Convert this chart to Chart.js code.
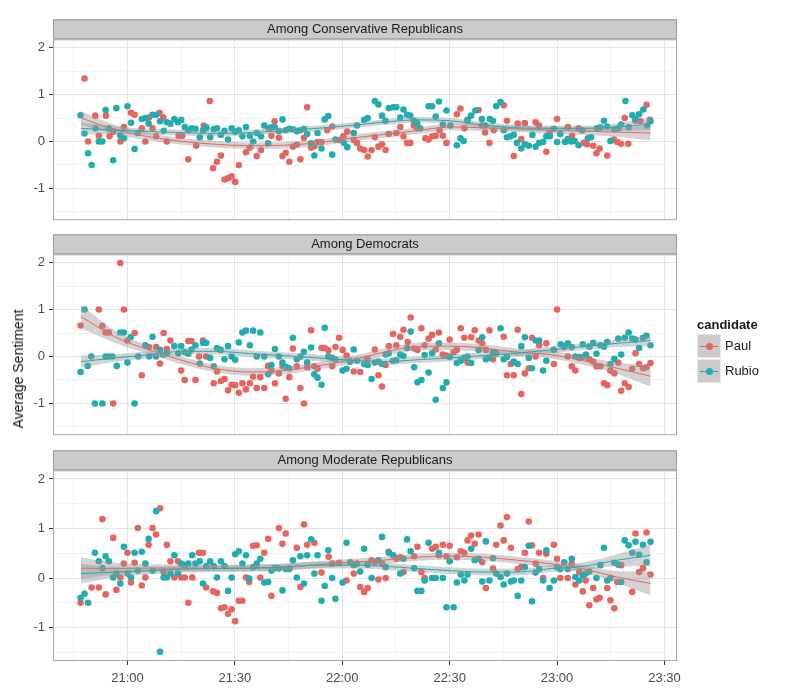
<!DOCTYPE html>
<html>
<head>
<meta charset="utf-8">
<script src="https://cdn.jsdelivr.net/npm/chart.js@4.4.1/dist/chart.umd.min.js"></script>
<style>
  body { margin: 0; background: #fff; font-family: "Liberation Sans", Arial, sans-serif; }
  #wrap { position: relative; width: 800px; height: 700px; overflow: hidden; }
  #wrap canvas { position: absolute; left: 0; }
  #ytitle { position: absolute; left: 18px; top: 369px; transform: translate(-50%, -50%) rotate(-90deg);
            font-size: 14px; font-weight: normal; color: #111; white-space: nowrap; }
  #legend { position: absolute; left: 697px; top: 316px; font-size: 13px; color: #1a1a1a; }
  #legend .ttl { font-weight: bold; height: 17px; line-height: 17px; }
  #legend .row { height: 25px; display: flex; align-items: center; }
  #legend .key { position: relative; width: 24px; height: 24px; background: #cbcbcb; border: 0.5px solid #e6e6e6; margin-right: 4px; box-sizing: border-box; }
  #legend .key i { position: absolute; left: 2px; right: 2px; top: 11px; height: 1px; }
  #legend .key b { position: absolute; left: 8px; top: 8px; width: 7px; height: 7px; border-radius: 50%; }
</style>
</head>
<body>
<div id="wrap">
  <canvas id="p1" width="800" height="232" style="top:0"></canvas>
  <canvas id="p2" width="800" height="215" style="top:232px"></canvas>
  <canvas id="p3" width="800" height="253" style="top:447px"></canvas>
  <div id="ytitle">Average Sentiment</div>
  <div id="legend">
    <div class="ttl">candidate</div>
    <div class="row"><span class="key"><i id="lk1"></i><b id="ld1"></b></span>Paul</div>
    <div class="row"><span class="key"><i id="lk2"></i><b id="ld2"></b></span>Rubio</div>
  </div>
</div>
<script>
// time is minutes after midnight (1260 = 21:00)
const panelTitles = ['Among Conservative Republicans', 'Among Democrats', 'Among Moderate Republicans'];
const candidates = ['Paul', 'Rubio'];
const xTicks = [1245, 1260, 1275, 1290, 1305, 1320, 1335, 1350, 1365, 1380, 1395, 1410];
const yTicks = [-1.5, -1, -0.5, 0, 0.5, 1, 1.5, 2];

const consPaul = [[1248,1.34],[1249,0],[1251,0.55],[1252,0.12],[1254,0.55],[1255,0.11],[1256,0.21],[1258,0],[1259,0.31],[1261,0.61],[1262,0.57],[1264,0.28],[1265,0],[1266,0.51],[1267,0.28],[1268,0.11],[1269,0.61],[1270,0.51],[1271,0],[1274.3,0.12],[1275.3,0.12],[1277,-0.38],[1279.2,-0.09],[1281.3,0.34],[1282,0.28],[1283,0.86],[1283.9,-0.57],[1285,-0.43],[1286.1,-0.3],[1287.1,-0.81],[1288.1,-0.78],[1289.1,-0.74],[1290.1,-0.86],[1291.1,-0.5],[1293.1,-0.23],[1294.2,-0.13],[1296.1,-0.31],[1297.3,-0.18],[1299.4,0.28],[1300.2,0.12],[1301.1,0.43],[1302.3,0.08],[1303.3,-0.31],[1304.2,-0.24],[1305.2,-0.43],[1306.2,-0.11],[1307.3,-0.07],[1308.3,-0.38],[1309.3,0.08],[1310.2,0.73],[1311.3,-0.13],[1312.2,-0.1],[1313.1,-0.01],[1314.2,-0.01],[1315.8,0.24],[1317.2,0.32],[1319.3,0.03],[1320.3,0.11],[1321.4,0.21],[1323.2,0.03],[1324.1,-0.03],[1325,-0.15],[1326.1,-0.18],[1327.1,-0.32],[1328.2,-0.18],[1329.1,0.09],[1330.1,-0.11],[1331.1,-0.06],[1332.1,-0.18],[1333,0.16],[1335.1,0.18],[1336.2,0.31],[1337.1,0.11],[1338.1,-0.03],[1339,-0.03],[1340,0.34],[1340.9,0.28],[1343.2,0.07],[1344.1,0.04],[1345.1,0.11],[1346.1,0.12],[1347.2,0.24],[1348.1,0.12],[1349.1,-0.03],[1352,0.58],[1353,0.7],[1354.1,0.28],[1355,0.44],[1358.1,0.67],[1359,0.34],[1359.9,0.19],[1361.1,-0.03],[1362.3,0.24],[1365.1,0.77],[1366,0.44],[1367.9,-0.31],[1369,0.38],[1370,0.05],[1371,0.39],[1374,0.41],[1375,0.34],[1377,-0.22],[1377.9,0.18],[1380,0.48],[1383,0.31],[1384.2,0.12],[1386,0.28],[1387.5,-0.03],[1388.4,-0.06],[1390.1,-0.09],[1391,-0.25],[1391.9,-0.15],[1394,-0.3],[1395.9,0.04],[1396.8,-0.01],[1397.9,-0.05],[1398.9,0.5],[1399.9,-0.05],[1401.9,0.44],[1403.3,0.43],[1405,0.78],[1405.9,0.46]];
const consRubio = [[1246.9,0.56],[1248,0.17],[1249,-0.25],[1250,-0.5],[1251.1,0.28],[1252,0],[1253,0],[1253.9,0.67],[1254.8,0.28],[1256,-0.4],[1256.9,0.71],[1258,0.13],[1259,0.07],[1260,0.75],[1261,0.4],[1262,-0.16],[1262.9,0.18],[1264,0.48],[1265,0.5],[1265.9,0.38],[1267,0.57],[1268,0.57],[1269.1,0.43],[1270.1,0.23],[1271,0.41],[1272,0.38],[1273.1,0.48],[1274.1,0.41],[1275,0.46],[1276,0.31],[1277,0.24],[1277.9,0.28],[1279,0.27],[1280.2,0.09],[1281.1,0.24],[1282,0.3],[1283.1,0.09],[1284.1,0.26],[1285,0.28],[1286.1,0.14],[1287.1,0.23],[1288.1,0.04],[1289.1,0.28],[1290.1,0.21],[1291.1,0.24],[1292.1,0.11],[1293.1,0.31],[1294.2,0.12],[1295.1,0],[1296.1,0.18],[1297.3,0.11],[1298.2,0.34],[1299.3,-0.04],[1300.2,0.3],[1301.1,0.31],[1302.3,0.22],[1303.3,0.47],[1304.2,0.24],[1305.2,0.27],[1306.2,0.26],[1307.3,0.22],[1308.3,0.24],[1309.3,0.27],[1310.2,0.16],[1311.3,-0.04],[1312.2,-0.3],[1313.1,0.18],[1314.2,-0.15],[1315.1,0.47],[1316.1,0.54],[1317.2,-0.28],[1318.1,0.04],[1320.5,-0.03],[1321.4,-0.12],[1323.2,0.18],[1324.1,0.34],[1326.1,0.46],[1327.1,0.5],[1329.1,0.86],[1330.1,0.79],[1331.1,0.55],[1332.1,0.44],[1333,0.71],[1334.2,0.73],[1335.1,0.73],[1336.2,0.51],[1337.1,0.68],[1338.1,0.57],[1339,0.55],[1340,0.44],[1340.9,0.39],[1341.8,0.28],[1344.1,0.75],[1345.1,0.75],[1346.1,0.53],[1347,0.85],[1348.1,0.36],[1349.1,0.66],[1350.2,0.34],[1352,-0.08],[1353,0.07],[1353.9,0.01],[1355,0.46],[1356,0.55],[1357.2,0.66],[1359,0.48],[1360,0.34],[1361.2,0.48],[1362.1,0.44],[1363,0.75],[1364.2,0.84],[1365.1,0.24],[1366,0.09],[1366.9,0.11],[1367.9,0.14],[1368.8,-0.03],[1370,-0.15],[1371,-0.06],[1372.1,-0.09],[1373.1,0.14],[1374,-0.11],[1375,-0.03],[1376.1,-0.01],[1377,0.11],[1378,0.11],[1379.1,0.27],[1380,-0.01],[1380.9,0.16],[1382.2,-0.01],[1383,0.05],[1383.9,0],[1384.9,0.01],[1386,-0.08],[1387,0.24],[1388.6,0.07],[1389.5,0.09],[1391.2,0.28],[1392.1,0.3],[1393.1,0.44],[1394,0.32],[1394.9,0.01],[1396,0.26],[1397.1,0.28],[1397.9,0.36],[1399.1,0.86],[1400,0.3],[1401,0.56],[1401.9,0.48],[1402.9,0.58],[1404.1,0.68],[1405.2,0.34],[1406.1,0.43]];

const demPaul = [[1246.9,0.66],[1252,1],[1253,0.65],[1253.9,0.51],[1254.8,0.51],[1256,-1],[1258,1.99],[1259,1],[1260,0.34],[1262,0.5],[1264,-0.4],[1266,0.2],[1268,0.2],[1269.1,-0.15],[1270.1,0.5],[1271,0.16],[1272,0.34],[1275,-0.3],[1276,-0.5],[1277,0.33],[1277.9,0.33],[1279,-0.5],[1280,0],[1281.1,0.34],[1282,0],[1284.1,-0.57],[1285,-0.32],[1286.1,-0.52],[1287.1,-0.48],[1288.1,-0.72],[1289.1,-0.6],[1290.1,-0.61],[1291.1,-0.77],[1292.1,-0.57],[1293.1,-0.7],[1294.2,-0.57],[1295.1,-0.43],[1296.1,-0.67],[1297.1,-0.44],[1298.2,-0.67],[1299.3,-0.2],[1300.2,-0.3],[1301.2,-0.57],[1302.3,-0.36],[1303.3,-0.2],[1304.2,-0.9],[1305.2,-0.44],[1306.2,0.17],[1307.3,-0.21],[1308.3,-0.67],[1309.3,-1],[1310.2,-0.23],[1311.3,0.56],[1312.2,-0.21],[1313.1,-0.26],[1314.2,0.18],[1315.1,0.18],[1316.1,0.13],[1317.2,-0.21],[1318.1,0.2],[1319.1,0.4],[1320.1,0.14],[1321.2,0.02],[1323.2,-0.32],[1325,-0.33],[1327,-0.05],[1329.1,0.15],[1330.1,-0.4],[1331.1,-0.64],[1332.1,-0.18],[1333,0.22],[1334.2,0.48],[1335.1,0.24],[1336.2,0.42],[1337.1,0.57],[1338.3,0.31],[1339.1,0.83],[1340.1,0.17],[1341,0.14],[1342.1,0.6],[1343,0.24],[1344.1,0.38],[1345.1,0.46],[1346.1,0.15],[1347,0.51],[1348.1,0.04],[1349.1,0.02],[1350,0.36],[1351.1,0.09],[1352,0.14],[1353.1,0.6],[1354.1,0.4],[1355,-0.13],[1356,0.41],[1357,0.56],[1358.1,0.34],[1359.1,0.28],[1360.1,0.14],[1361.1,0.56],[1362.1,-0.06],[1363,0.07],[1365.1,0.42],[1366,-0.4],[1367.1,-0.16],[1367.9,-0.4],[1369,0.57],[1370,-0.8],[1371,-0.36],[1372.1,-0.25],[1373,0.4],[1374,0],[1375,0.24],[1377,0.28],[1379.1,-0.16],[1380,1],[1382,0.2],[1383,0],[1384.1,-0.21],[1385.1,-0.3],[1386.2,-0.03],[1387.2,-0.01],[1389,-0.06],[1390.1,-0.11],[1391,-0.21],[1392.1,-0.21],[1393.1,-0.57],[1394,-0.61],[1394.9,-0.3],[1396,-0.36],[1397.1,-0.13],[1397.9,-0.73],[1398.9,-0.57],[1400,-0.65],[1401,-0.26],[1401.9,0.07],[1402.9,-0.16],[1404,-0.25],[1405,-0.23],[1406.1,-0.14]];
const demRubio = [[1246.9,-0.33],[1248,1],[1248.9,-0.2],[1249.9,0],[1250.9,-1],[1253,-1],[1253.9,0],[1254.8,0],[1255.8,0],[1257,-0.2],[1258,0.51],[1259,0.51],[1260,-0.13],[1260.9,0.41],[1262,-1],[1263,0],[1265,0.24],[1266.1,0],[1267,0.42],[1268,0],[1269.1,0.14],[1270,0.04],[1271,0.07],[1273.1,0.22],[1274.2,0.07],[1275,0.22],[1276,0.09],[1277,0.06],[1277.9,0.15],[1279,0.24],[1280.2,-0.15],[1281.1,0.29],[1282,0.29],[1283.1,-0.03],[1284.1,-0.21],[1285,0.18],[1286.1,0.14],[1287.1,-0.06],[1288.1,0.22],[1289.1,0],[1290.1,-0.07],[1291.1,0.3],[1292.1,0.51],[1293.1,0.55],[1294.2,0.24],[1295.1,0.55],[1296.1,0],[1297.1,0.51],[1298.2,0],[1299.3,-0.38],[1300.2,-0.18],[1301.2,0.16],[1302.3,0],[1303.3,-0.13],[1304.2,-0.22],[1305.2,-0.25],[1306.2,0.4],[1307.3,-0.06],[1308.3,0],[1309.3,0.1],[1310.2,-0.13],[1311.3,0.19],[1312.2,-0.38],[1313.1,-0.45],[1314.2,-0.6],[1315.1,0.61],[1316.1,0],[1317.2,-0.03],[1318.1,-0.07],[1320.1,-0.3],[1321.2,-0.26],[1322.2,-0.11],[1323.2,0.15],[1324.1,-0.09],[1326.1,-0.16],[1327.1,-0.18],[1328.2,-0.48],[1329.1,-0.13],[1330.1,-0.11],[1331.1,-0.16],[1332.1,0.04],[1333,0.07],[1334.2,-0.09],[1335.1,-0.08],[1336.2,0.04],[1337.1,0.01],[1338.1,0.18],[1339.1,0.53],[1340.1,-0.23],[1341,-0.55],[1342.1,-0.5],[1343,0.03],[1344.1,-0.34],[1345.1,0.07],[1346.1,-0.92],[1347,0.28],[1348.1,-0.67],[1349.1,-0.55],[1350,-0.01],[1352,-0.14],[1353.1,-0.09],[1354.1,-0.03],[1355,0],[1356,-0.14],[1358.1,0.14],[1359.1,0.41],[1360.1,-0.06],[1361.1,-0.03],[1362.1,0.09],[1363,0.07],[1364.2,0.6],[1365.1,-0.06],[1366,-0.01],[1367.9,-0.11],[1369,-0.16],[1370,0.22],[1371,0.41],[1372.1,-0.03],[1373,-0.25],[1374,0.34],[1375,0.34],[1376.1,-0.3],[1377,-0.09],[1379.1,0.14],[1381,0.26],[1382,0.22],[1383,0.28],[1384.1,0.2],[1385.1,0],[1386.2,-0.01],[1387.2,0.26],[1388.1,0.04],[1389,0.21],[1390.1,0.29],[1391,0.06],[1392.1,0.24],[1393.1,0.21],[1394,0.31],[1394.9,-0.16],[1396,-0.05],[1397.1,0.38],[1397.9,0.04],[1398.9,0.4],[1400,0.51],[1401,0.38],[1401.9,0.36],[1402.9,0.18],[1404,0.4],[1405,0.44],[1406.1,0.24]];

const modPaul = [[1246.9,-0.5],[1250,-0.19],[1252,-0.19],[1253,1.19],[1253.9,-0.33],[1256,0.81],[1256.9,-0.24],[1258,0.01],[1259,0.29],[1260,0.51],[1261,-0.09],[1262,0.31],[1262.9,1.01],[1264,-0.15],[1265,0.01],[1265.9,0.67],[1267,1.01],[1268,0.88],[1269.1,1.41],[1270.1,0.12],[1271,0.67],[1272,0.34],[1273.1,0.01],[1274.1,0.34],[1275,0.01],[1276,0.01],[1277,-0.5],[1278.1,0.01],[1280,0.51],[1281.1,0.51],[1282,-0.19],[1283.9,-0.27],[1285,-0.3],[1286.1,-0.61],[1287.1,-0.59],[1288.1,-0.72],[1289.1,-0.63],[1290.1,-0.87],[1291.1,-0.46],[1292.1,-0.46],[1293.1,0.01],[1294,-0.08],[1295.1,0.65],[1296.1,0.66],[1297.1,0.01],[1298.2,0.51],[1299.3,0.79],[1300.2,-0.36],[1302.3,1.01],[1303.3,0.69],[1304.2,0.9],[1305.2,0.18],[1307.3,0.61],[1308.3,-0.18],[1309.3,1.08],[1310.2,0.67],[1312.2,0.71],[1314.2,0.11],[1316.2,0.43],[1317.2,0.29],[1319.1,0.31],[1321.2,-0.05],[1323.2,0.09],[1325,-0.18],[1326.1,-0.28],[1327.1,-0.2],[1328.2,0.36],[1329.1,0.32],[1330.1,-0.03],[1331.1,0.29],[1332.1,0],[1333,0.53],[1334.2,0.46],[1335.1,0.39],[1336.2,0.42],[1337.1,0.12],[1340.1,0.44],[1341,0.63],[1342.1,0.12],[1343,0],[1345.1,0.59],[1346.1,0.63],[1347,0.46],[1348.1,0.67],[1349.1,0.44],[1350,0.65],[1352,0.42],[1353.1,0.54],[1354.1,0.51],[1355,0.76],[1356,0.86],[1357,0.69],[1358.1,0.88],[1359.1,0.32],[1360.1,-0.2],[1362.1,0.19],[1363,0.67],[1364.2,1.06],[1365.1,0.76],[1366,1.23],[1367.1,0.61],[1369,0.18],[1370,0.22],[1371,0.51],[1372.1,1.14],[1373,0.66],[1374,0.29],[1375,0.51],[1376.1,0],[1377,0.49],[1379.1,0.67],[1380,0.39],[1380.9,0],[1383,0],[1384.1,0.29],[1385.1,-0.13],[1386.2,0.12],[1387.2,-0.27],[1388,-0.05],[1389,-0.55],[1390.1,-0.2],[1391,-0.43],[1391.9,-0.4],[1394,-0.2],[1394.9,-0.45],[1396,-0.61],[1396.8,-0.08],[1397.9,0.26],[1401,-0.28],[1401.9,0.9],[1402.9,0.12],[1404,0.2],[1405,0.92],[1406.1,0.07]];
const modRubio = [[1246.9,-0.4],[1248,-0.32],[1249,-0.5],[1250.9,0.51],[1252,0.34],[1253,0.2],[1253.9,0.44],[1254.8,0.34],[1256,0.01],[1256.9,0.09],[1258,-0.11],[1259,0.63],[1260,0.09],[1261,0.01],[1262,0.51],[1262.9,0.15],[1264,0.53],[1265,0.29],[1265.9,0.79],[1267,0.15],[1268,1.35],[1269.1,-1.49],[1270.1,0.01],[1271,0.01],[1272,0.09],[1273.1,0.46],[1274.1,0.09],[1275,0.29],[1276,0.26],[1277,0.29],[1278.1,0.46],[1279,0.29],[1280.2,0.34],[1281.1,-0.11],[1282,0.24],[1283.1,0.34],[1284.1,0.24],[1285,0.01],[1286.1,0.34],[1287.1,0.24],[1288.1,-0.26],[1289.1,0.01],[1290.1,0.48],[1291.1,0.54],[1292.1,0.29],[1293.1,0.46],[1294,-0.01],[1295.1,0.22],[1296.1,0.29],[1297.1,0.39],[1298.2,-0.09],[1299.3,-0.08],[1300.2,0.15],[1301.2,0.2],[1302.3,0.19],[1303.3,-0.25],[1304.2,0.18],[1305.2,0.19],[1306.2,0.36],[1307.3,0.01],[1308.3,0.44],[1309.3,-0.11],[1310.2,0.46],[1311.3,0.78],[1312.2,0.09],[1313.1,0.46],[1314.2,-0.46],[1315.1,-0.16],[1316.1,0.56],[1317.2,0],[1318.1,-0.42],[1320.1,-0.09],[1321.2,0.71],[1322.2,0.32],[1323.2,0.26],[1324.1,0.29],[1325,0.13],[1326.1,0.59],[1327.1,0.27],[1328.2,0],[1330.1,0.36],[1331.1,0.83],[1332.1,0.22],[1333,0.51],[1334.2,0.46],[1336.2,0.09],[1337.1,0.39],[1338.1,0.78],[1339.1,0.54],[1340.1,0.2],[1341,-0.26],[1342.1,-0.26],[1343,-0.05],[1344.1,0.71],[1345.1,0],[1346.1,0],[1347,0.51],[1348.1,0],[1349.1,-0.59],[1350,0.34],[1351.1,-0.59],[1352,-0.09],[1353.1,0.07],[1354.1,-0.05],[1355,0.07],[1356,0.59],[1357,0.36],[1358.1,0.39],[1359.1,-0.07],[1360.1,0.74],[1361.1,-0.05],[1362.1,0.4],[1363,0.09],[1364.2,0.02],[1365.1,-0.13],[1366,0.09],[1367.1,-0.07],[1367.9,-0.05],[1369,-0.36],[1370,-0.05],[1371,0.22],[1372.1,0.65],[1373,-0.47],[1374,0.11],[1375,0.18],[1376.1,-0.05],[1377,0.56],[1377.9,-0.2],[1379.1,-0.05],[1380,0.22],[1380.9,0.18],[1382,0.32],[1383,0.18],[1384.1,0.39],[1385.1,0.02],[1386.2,-0.05],[1387.2,0.05],[1388,0.09],[1389,0.13],[1391,0],[1392.1,0.26],[1393.1,0.61],[1394,-0.05],[1394.9,0],[1396,0.31],[1397.1,0.27],[1397.9,-0.08],[1398.9,0.76],[1400,0.66],[1401,0.51],[1401.9,0.73],[1402.9,0.47],[1404,0.67],[1405,0.32],[1406.1,0.73]];

// loess fits and their standard-error half widths, read at these times
const fitTimes = [1247, 1256.7, 1266.1, 1275.5, 1284.8, 1294.2, 1303.6, 1313, 1322.3, 1331.5, 1340.9, 1350.2, 1359.5, 1368.8, 1378.1, 1387.5, 1396.8, 1406.1];
const consPaulFit  = [0.5, 0.25, 0.1, 0, -0.06, -0.09, -0.08, -0.03, 0.07, 0.15, 0.23, 0.31, 0.29, 0.27, 0.24, 0.22, 0.2, 0.18];
const consPaulSe   = [0.15, 0.1, 0.08, 0.07, 0.07, 0.07, 0.07, 0.07, 0.07, 0.07, 0.07, 0.07, 0.07, 0.07, 0.07, 0.08, 0.1, 0.16];
const consRubioFit = [0.28, 0.24, 0.21, 0.19, 0.17, 0.19, 0.23, 0.28, 0.34, 0.41, 0.46, 0.44, 0.35, 0.29, 0.28, 0.28, 0.31, 0.37];
const consRubioSe  = [0.13, 0.08, 0.06, 0.06, 0.06, 0.06, 0.06, 0.06, 0.06, 0.06, 0.06, 0.06, 0.06, 0.06, 0.06, 0.06, 0.08, 0.13];
const demPaulFit   = [0.85, 0.41, 0.14, -0.09, -0.26, -0.33, -0.3, -0.2, -0.08, 0.09, 0.21, 0.22, 0.18, 0.09, 0.04, -0.09, -0.25, -0.42];
const demPaulSe    = [0.25, 0.13, 0.09, 0.08, 0.08, 0.08, 0.08, 0.08, 0.08, 0.08, 0.08, 0.08, 0.08, 0.08, 0.08, 0.09, 0.12, 0.22];
const demRubioFit  = [-0.11, -0.03, 0.04, 0.11, 0.11, 0.06, 0.02, -0.03, -0.08, -0.11, -0.07, -0.03, 0.02, 0.07, 0.14, 0.21, 0.28, 0.34];
const demRubioSe   = [0.13, 0.08, 0.07, 0.07, 0.07, 0.07, 0.07, 0.07, 0.07, 0.07, 0.07, 0.07, 0.07, 0.07, 0.07, 0.07, 0.08, 0.12];
const modPaulFit   = [0.2, 0.19, 0.2, 0.2, 0.2, 0.2, 0.22, 0.27, 0.32, 0.36, 0.42, 0.44, 0.42, 0.36, 0.29, 0.18, 0.02, -0.11];
const modPaulSe    = [0.22, 0.12, 0.08, 0.07, 0.07, 0.07, 0.07, 0.07, 0.07, 0.07, 0.07, 0.07, 0.07, 0.07, 0.07, 0.08, 0.12, 0.24];
const modRubioFit  = [0.09, 0.12, 0.15, 0.18, 0.19, 0.2, 0.22, 0.26, 0.26, 0.24, 0.19, 0.15, 0.12, 0.12, 0.19, 0.24, 0.36, 0.46];
const modRubioSe   = [0.2, 0.11, 0.08, 0.07, 0.07, 0.07, 0.07, 0.07, 0.07, 0.07, 0.07, 0.07, 0.07, 0.07, 0.07, 0.08, 0.12, 0.22];

const paulColor = '#E8655F';
const rubioColor = '#1FADB0';
const bandColor = 'rgba(150,150,150,0.42)';

document.getElementById('lk1').style.background = paulColor;
document.getElementById('ld1').style.background = paulColor;
document.getElementById('lk2').style.background = rubioColor;
document.getElementById('ld2').style.background = rubioColor;

const fmtTime = v => Math.floor(v / 60) + ':' + String(v % 60).padStart(2, '0');

// grey strip above each panel plus the panel frame
const stripPlugin = {
  id: 'strip',
  afterDraw(chart, args, opts) {
    const { ctx, chartArea: a } = chart;
    ctx.save();
    ctx.fillStyle = '#cbcbcb';
    ctx.fillRect(a.left, a.top - 20, a.right - a.left, 20);
    ctx.strokeStyle = '#9a9a9a';
    ctx.lineWidth = 1;
    ctx.strokeRect(a.left + 0.5, a.top - 19.5, a.right - a.left - 1, 19);
    ctx.fillStyle = '#1a1a1a';
    ctx.font = '13px "Liberation Sans", Arial, sans-serif';
    ctx.textAlign = 'center';
    ctx.textBaseline = 'middle';
    ctx.fillText(opts.title, (a.left + a.right) / 2, a.top - 9.5);
    ctx.strokeStyle = '#a8a8a8';
    ctx.strokeRect(a.left + 0.5, a.top + 0.5, a.right - a.left - 1, a.bottom - a.top - 1);
    ctx.restore();
  }
};

function pts(arr) { return arr.map(p => ({ x: p[0], y: p[1] })); }
function band(fit, se, k) { return fitTimes.map((t, i) => ({ x: t, y: fit[i] + k * se[i] })); }

function smoothSets(fit, se, color, ord) {
  const line = { type: 'line', showLine: true, pointRadius: 0, borderWidth: 1, cubicInterpolationMode: 'monotone' };
  return [
    Object.assign({}, line, { data: band(fit, se, -1), borderWidth: 0, borderColor: 'rgba(0,0,0,0)', fill: false, order: ord + 1 }),
    Object.assign({}, line, { data: band(fit, se, 1), borderWidth: 0, borderColor: 'rgba(0,0,0,0)', fill: '-1', backgroundColor: bandColor, order: ord + 1 }),
    Object.assign({}, line, { data: pts(fit.map((v, i) => [fitTimes[i], v])), borderColor: color, fill: false, order: ord })
  ];
}

function makePanel(id, title, paul, rubio, pFit, pSe, rFit, rSe, padTop, padBottom, showX) {
  const datasets = [
    { data: pts(paul), backgroundColor: paulColor, pointRadius: 3.3, borderWidth: 0, order: 20 },
    { data: pts(rubio), backgroundColor: rubioColor, pointRadius: 3.3, borderWidth: 0, order: 19 }
  ].concat(smoothSets(pFit, pSe, paulColor, 10), smoothSets(rFit, rSe, rubioColor, 5));

  new Chart(document.getElementById(id), {
    type: 'scatter',
    data: { datasets },
    options: {
      responsive: false,
      animation: false,
      events: [],
      layout: { padding: { top: padTop, bottom: padBottom, left: 0, right: 123 } },
      plugins: {
        legend: { display: false },
        tooltip: { enabled: false },
        filler: { drawTime: 'beforeDatasetDraw' },
        strip: { title }
      },
      scales: {
        x: {
          type: 'linear', min: 1239.2, max: 1413.5,
          afterBuildTicks: s => { s.ticks = xTicks.map(v => ({ value: v })); },
          afterFit: s => { s.height = showX ? 39 : 0; },
          border: { display: false },
          grid: {
            color: c => (c.tick && c.tick.value % 30 === 0) ? '#e4e4e4' : '#f3f3f3',
            tickColor: c => (c.tick && c.tick.value % 30 === 0) ? '#333' : 'rgba(0,0,0,0)',
            drawTicks: showX, tickLength: 4
          },
          ticks: {
            display: showX, maxRotation: 0, autoSkip: false, padding: 6,
            color: '#4d4d4d', font: { size: 13, family: '"Liberation Sans", Arial, sans-serif' },
            callback: v => v % 30 === 0 ? fmtTime(v) : ''
          }
        },
        y: {
          min: -1.675, max: 2.175,
          afterBuildTicks: s => { s.ticks = yTicks.map(v => ({ value: v })); },
          afterFit: s => { s.width = 53; },
          border: { display: false },
          grid: {
            color: c => (c.tick && Number.isInteger(c.tick.value)) ? '#e4e4e4' : '#f3f3f3',
            tickColor: c => (c.tick && Number.isInteger(c.tick.value)) ? '#333' : 'rgba(0,0,0,0)',
            tickLength: 4
          },
          ticks: {
            padding: 4, autoSkip: false,
            color: '#4d4d4d', font: { size: 13, family: '"Liberation Sans", Arial, sans-serif' },
            callback: v => Number.isInteger(v) ? String(v) : ''
          }
        }
      }
    },
    plugins: [stripPlugin]
  });
}

makePanel('p1', panelTitles[0], consPaul, consRubio, consPaulFit, consPaulSe, consRubioFit, consRubioSe, 39.3, 2.1, false);
makePanel('p2', panelTitles[1], demPaul, demRubio, demPaulFit, demPaulSe, demRubioFit, demRubioSe, 22.3, 2, false);
makePanel('p3', panelTitles[2], modPaul, modRubio, modPaulFit, modPaulSe, modRubioFit, modRubioSe, 23.3, 0, true);
</script>
</body>
</html>
